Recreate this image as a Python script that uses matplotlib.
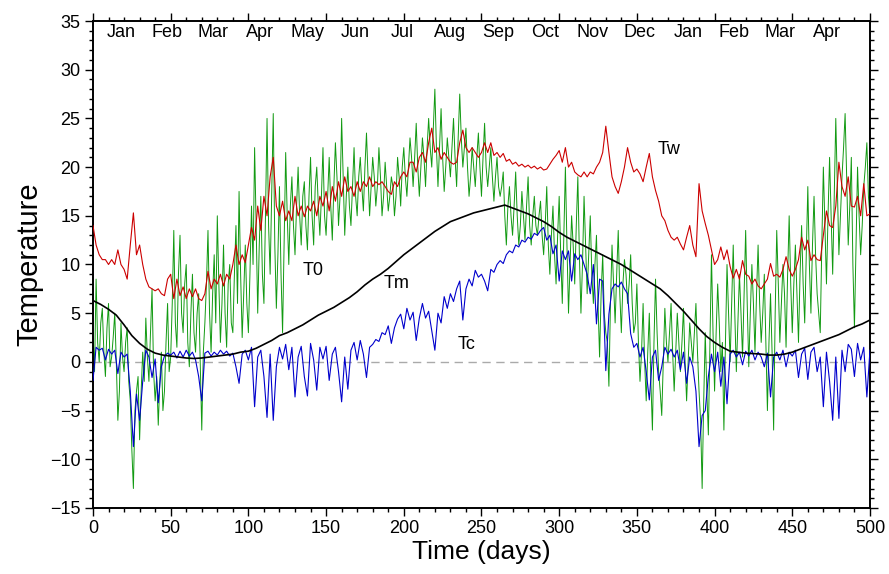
import numpy as np
import matplotlib
matplotlib.use("Agg")
import matplotlib.pyplot as plt

plt.rcParams['font.family'] = ['Liberation Sans', 'DejaVu Sans']

# air temperature T0, one value per day (day 0..500)
t0 = [3, -1, 8.5, 2, 0, 4, 5.5, 1, -1.5, 3.5, 6, -0.5, 0.5, 2.5, 5, 0, -6, -3, 4, 0.5, -1, 2, 3.5, -2, -4,
      -9, -13, -5, -3, -1.5, -8, -3, 1, -2, 4.5, 0.5, -2, 3, 7.5, -1, -4, -1.5, -6.5, -2, 1, -5, -3, 2, 6, -1,
      0.5, 6, 13.5, 4, 1.5, 9, 13, 5, 3, 8, 10, 2, -0.5, 5, 9, 3, 1, 5, 7, 0, -7, 1, 4, 8, 13.5,
      5, 1, 7, 11, 4, 15, 8, 2, 6, 12, 5, 1.5, 8, 10, 4, 3, 9, 14, 6, 17.5, 9, 2.5, 7, 12, 6,
      3, 9, 16, 10, 22, 14, 5, 12, 17, 9, 6, 15, 25, 14, 9, 17, 25.5, 12, 5.5, 11, 18, 9, 3, 12, 21.5,
      15, 10, 16, 19, 14, 11, 16, 20, 15, 12, 17, 18.5, 14, 11.5, 17, 21, 15, 12, 18, 20, 16, 13, 17, 22, 15,
      13, 17, 21, 16, 12.5, 18, 22.5, 19, 14, 17, 25, 19, 13, 17, 20, 16, 14, 18, 22, 17, 15, 19, 21, 18, 15.5,
      20, 23.5, 19, 15, 18, 21, 19, 16, 18, 22, 19, 15, 17, 20.5, 18, 15.5, 17, 19, 18, 15, 17, 21, 19, 16, 20,
      22, 19, 17, 20, 23, 21, 18, 21, 24.5, 20, 17, 20, 23, 21, 18, 22, 25, 22, 20, 24, 28, 22, 18, 22, 26,
      21, 17.5, 20, 23, 21, 19, 22, 25, 21, 18, 23, 27.5, 23, 20, 22, 24, 20, 17, 19, 22, 20, 18, 21, 23.5, 20,
      17, 21, 24.5, 20, 18, 20, 22, 19, 16.5, 19, 21, 18, 17, 18, 19.5, 15, 12, 16, 18, 15, 13, 16, 19.5, 15, 12,
      14, 17.5, 15, 12.5, 16, 19, 14, 12, 15, 17, 14, 13, 15, 16.5, 13, 11, 14, 18, 12, 9, 13, 16, 11, 8, 13,
      17, 11, 6, 13, 20, 12, 5, 10, 15, 12, 8, 14, 19, 11, 5, 10, 17, 12, 7, 11, 15, 9, 6, 10, 13,
      6, 0.5, 7, 11, 5, 3, 2, -2.5, 6, 12, 8, 4, 9, 13.5, 7, 3, 8, 10.5, 9, 6, 8, 11, 6, 3, 4,
      8, 2, -2, 1, 6, 0, -4, 1, 5, -2, -7, 2, 8.5, 3, -1, -3, -5.5, 0, 5.5, 2, 0, 3, 6, 1, -3,
      1, 5, 2, -1, 2, 5.5, 0, -4, 0, 4, 2, 0, 3, 6, 1, -3, -6, -13, -4, 3, -3, -7.5, 2, 11, 3,
      -3, 3, 8, 4, -1, 2, -7, 2, 10, 5, 0, 6, 12, 5, -1, 4, 9, 5, 0.5, 7, 13.5, 6, -0.5, 5, 10,
      6, 1, 7, 12, 6, 2, 5, 9, 2, -5, 2, 7, 1, -7, 5, 13.5, 8, 2, 6, 10, 7, 1.5, 9, 15, 8,
      3, 8, 12, 7, 2, 9, 14, 8, 4, 11, 18, 10, 5, 12, 17, 11, 7, 5, 3, 12, 20, 14, 8, 15, 21,
      15, 9, 17, 25, 18, 11, 15, 19, 22, 25.5, 19, 12, 16, 21, 10, 3.5, 12, 20, 15, 11, 14, 18, 20, 22.5, 17,
      15]

# warm-side temperature Tw, every 2 days
tw = [14, 12, 11, 10.5, 10.5, 10, 10.5, 10, 11.5, 10, 9.5, 8.5, 12, 15.3, 11, 12, 10, 8.5, 7.7, 7.5, 7.3, 7.5, 7, 6.8, 8.5,
      9, 6.5, 8.5, 6.8, 7.7, 6.5, 7.5, 6.7, 7.5, 6.5, 6.3, 7, 9.3, 7.5, 8.5, 8, 9, 7.8, 9, 8.5, 10, 12, 10, 11, 10.2,
      12, 13.8, 12.5, 16, 13.5, 17, 15, 19, 21, 16, 15, 16.5, 14.5, 15.5, 14.5, 17, 15, 16, 14.9, 16, 15.5, 16.5, 15, 17, 16,
      17.5, 15.5, 18, 16.5, 18.5, 17, 19, 17.5, 18, 17, 18.5, 17.5, 18.5, 18, 19, 18, 18.5, 18.2, 18.5, 18, 17.5, 17.2, 18.5, 18, 19,
      19.5, 19, 20.5, 20.5, 19.5, 21, 21.5, 20.5, 22.5, 24, 21.5, 22, 20.8, 21.5, 21, 20.5, 20.3, 20.5, 22.5, 23.8, 22, 21.5, 22, 21.5, 21,
      21.5, 22.5, 21.5, 22.5, 21.2, 21.5, 21, 21.4, 20.6, 20.8, 20.3, 20.5, 20.1, 20.3, 20, 20.2, 19.9, 20.1, 19.8, 20, 19.7, 19.8, 20.3, 20.8, 21.2,
      21.7, 20.5, 22, 20, 20.5, 19.5, 19.2, 19, 19.5, 19, 19.5, 19.3, 20, 20.5, 21.5, 24.2, 21.5, 19, 18, 17.3, 18.5, 20, 22, 20.5, 19.5,
      19.8, 19.3, 18.5, 20, 21.4, 19, 17.6, 16.5, 15, 14.5, 13.5, 12.8, 12.5, 12.8, 12.1, 11.5, 12.8, 14, 12, 10.8, 18.3, 15.5, 14.2, 13, 11.5,
      10, 10.5, 11.8, 10.5, 11.5, 9.8, 8.6, 9.5, 8.5, 10.4, 9, 8.8, 8, 8.5, 7.8, 7.5, 8, 8.5, 10.1, 8.8, 9, 8.7, 9.5, 10.8, 9.5,
      8.8, 9.5, 10.5, 12.8, 11.5, 12.5, 10.4, 11, 10.5, 10.4, 13, 15.5, 14, 13.8, 16, 20.5, 18, 17, 19, 16, 15.9, 17, 15, 18.3, 15,
      15.2]

# cold-side temperature Tc, every 2 days
tc = [-1.9, 1.5, 1.2, 1.4, 0.2, 1.3, 0.8, 1.2, -1.2, 1, 0.5, 0.8, -3, -8.7, -3.3, -6, -2, 1.2, 0.5, -1.6, 0.3, -4.2, -0.5, 0.6, 0.9,
      0.7, 1, 0.4, 1.1, 0.5, 1.2, 0.6, 1, 0.2, -1.5, -4, 0.9, 1.1, 0.6, 1, 0.7, 1.2, 0.8, 1.1, 0.6, 0.9, -0.5, -2.2, 0.8, 1.2,
      0.2, 1.5, -4.6, 0.5, 1.2, -1.5, -5.7, 0.8, -6, -0.5, 1.5, 0.3, 1.8, -0.8, 1.5, -3.6, 0.5, 1.6, -1.5, -3.5, 1.9, 0.2, -2.9, 1.5, 0.3,
      1.6, -1.9, 0.8, 1.5, -1, -4.1, 0.5, -2.8, 1.2, 2, 0.2, 2.2, 0.8, -1.6, 1.5, 1.8, 2.3, 2.1, 3, 2.8, 3.7, 1.9, 3.5, 4.4, 4.9,
      3.4, 5.5, 4.3, 5.1, 2.2, 4.5, 6, 4.5, 5.2, 3.2, 1.2, 5, 4, 6.7, 5.5, 7, 6.2, 7.5, 8.3, 4.3, 7.5, 8.5, 7.8, 9.4, 8.7,
      9, 8.3, 7.3, 9.5, 9.2, 10, 10.4, 10.1, 11, 11.4, 11.2, 12, 11.8, 12.5, 12.3, 12.8, 12.6, 13.2, 13, 13.5, 13.8, 12.5, 13, 11.1, 12,
      8.3, 11.4, 10.5, 11.4, 8.3, 11.1, 10.5, 11, 10, 9, 7, 10, 3.9, 8.5, 8.3, -0.9, 4.9, 7.5, 8, 7.7, 8.2, 7.5, 7, 2.9, 1.5,
      1.9, 0.5, 1.5, -1, -3.9, 0.5, 1.2, -1.9, -0.5, 1.5, 0.8, 1.3, 0.5, 1.2, -0.8, 1, -2.2, 0.5, -0.5, -3, -8.7, -5.5, -5, -1.5, 0.8,
      -1, 1, -2.5, 0.5, -4.3, 0.8, 1.2, 0.5, 1, -0.3, 1.1, 0.6, 1.2, 0.2, 1, 0.5, -0.5, 0.9, -3.6, 0.5, 1, 0.2, 1.2, -0.5, 1,
      0.6, 1.2, -1.6, 0.8, 1.4, -1.8, 1, 1.5, -1, 0.5, -4.6, 1, -2, -6, 0.5, -5.8, 1.2, -1, 1.8, 1.3, -1.5, 1.9, 0.2, 1.5, -3.6,
      1.2]

# mean temperature Tm, every 5 days
tm = [6.3, 5.9, 5.4, 4.8, 3.8, 2.7, 1.9, 1.3, 0.9, 0.7, 0.6, 0.5, 0.4, 0.35, 0.4, 0.5, 0.6, 0.7, 0.8, 1.0,
      1.1, 1.4, 1.8, 2.2, 2.7, 3.0, 3.4, 3.8, 4.3, 4.8, 5.2, 5.6, 6.1, 6.6, 7.2, 7.9, 8.5, 9.0, 9.6, 10.3,
      11.0, 11.6, 12.2, 12.8, 13.4, 13.9, 14.4, 14.7, 15.0, 15.3, 15.5, 15.7, 15.9, 16.1, 15.8, 15.5, 15.2, 14.8, 14.4, 13.9,
      13.3, 12.8, 12.4, 12.0, 11.6, 11.2, 10.8, 10.4, 10.0, 9.5, 9.0, 8.5, 8.0, 7.5, 6.8, 6.0, 5.2, 4.3, 3.4, 2.6,
      2.0, 1.5, 1.1, 1.0, 0.9, 0.85, 0.8, 0.7, 0.7, 0.8, 1.0, 1.3, 1.6, 1.9, 2.2, 2.5, 2.8, 3.2, 3.6, 3.9,
      4.3]

months = ['Jan', 'Feb', 'Mar', 'Apr', 'May', 'Jun', 'Jul', 'Aug', 'Sep', 'Oct', 'Nov', 'Dec',
          'Jan', 'Feb', 'Mar', 'Apr']
month_len = [31, 28, 31, 30, 31, 30, 31, 31, 30, 31, 30, 31, 31, 28, 31, 30]

fig = plt.figure(figsize=(8.89, 5.74), dpi=100)
ax = fig.add_axes([0.1046, 0.115, 0.874, 0.8484])

ax.axhline(0, color='#aaaaaa', lw=1, dashes=(6, 4), zorder=1)
ax.plot(np.arange(len(t0)), t0, color='#129a12', lw=0.7, zorder=2)
ax.plot(2 * np.arange(len(tw)), tw, color='#cc0000', lw=0.8, zorder=3)
ax.plot(2 * np.arange(len(tc)), tc, color='#0000cc', lw=0.8, zorder=4)
ax.plot(5 * np.arange(len(tm)), tm, color='black', lw=1.2, zorder=5)

ax.text(141.6, 9.4, 'T0', fontsize=13, ha='center', va='center')
ax.text(195.6, 8.0, 'Tm', fontsize=13, ha='center', va='center')
ax.text(240.7, 1.8, 'Tc', fontsize=13, ha='center', va='center')
ax.text(370.7, 21.8, 'Tw', fontsize=13, ha='center', va='center')

# month names along the top, inside the frame
starts = np.concatenate([[0], np.cumsum(month_len)[:-1]])
for name, s, n in zip(months, starts, month_len):
    ax.text(s + n / 2 + 2.5, 33.8, name, fontsize=13, ha='center', va='center')

ax.set_xlim(0, 500)
ax.set_ylim(-15, 35)
ax.set_xticks(np.arange(0, 501, 50))
ax.set_xticks(np.arange(0, 501, 10), minor=True)
ax.set_yticks(np.arange(-15, 36, 5))
ax.set_yticks(np.arange(-15, 36, 1), minor=True)
ax.tick_params(which='both', direction='out', top=True, right=True, labelsize=13, width=1)
ax.tick_params(which='major', length=5.5)
ax.tick_params(which='minor', length=2.8)
for sp in ax.spines.values():
    sp.set_linewidth(1.4)

ax.set_xlabel('Time (days)', fontsize=19, labelpad=2)
ax.set_ylabel('Temperature', fontsize=21, labelpad=5)

fig.savefig('out.png', dpi=100)
